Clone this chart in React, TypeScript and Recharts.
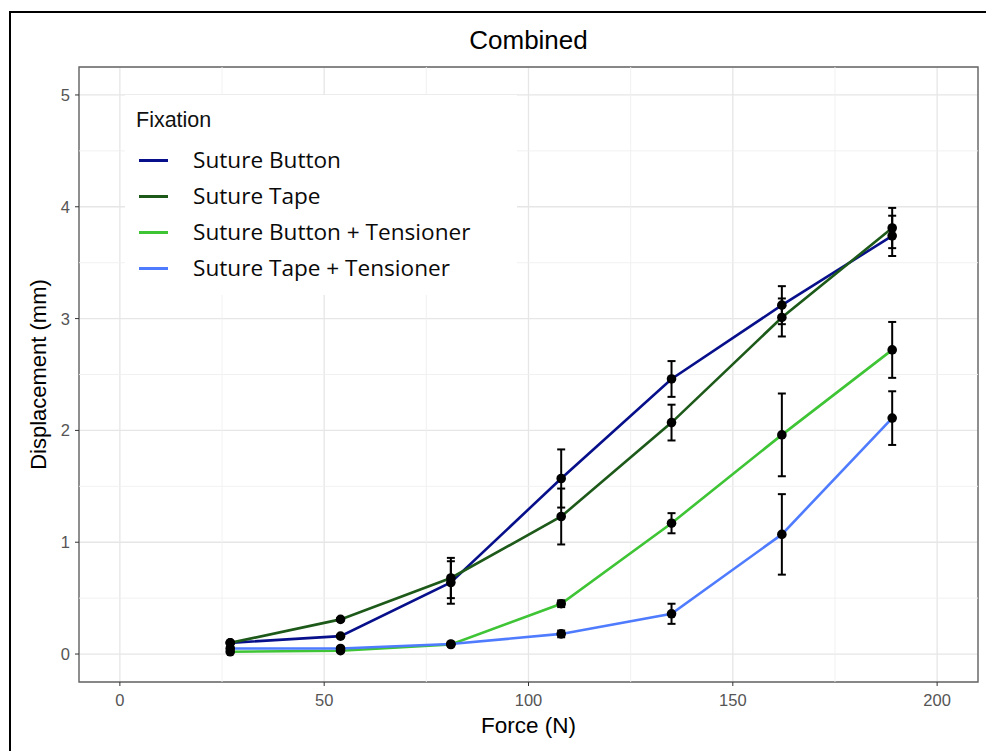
import React from 'react';
import {
  LineChart,
  Line,
  XAxis,
  YAxis,
  CartesianGrid,
  ErrorBar,
  ReferenceLine,
  ReferenceArea,
  Legend,
} from 'recharts';

// ---------- data ----------
const force = [27, 54, 81, 108, 135, 162, 189];

const sutureButton = [0.1, 0.16, 0.64, 1.57, 2.46, 3.12, 3.74];
const sutureButtonErr = [0.01, 0.01, 0.19, 0.26, 0.16, 0.17, 0.18];

const sutureTape = [0.1, 0.31, 0.68, 1.23, 2.07, 3.01, 3.81];
const sutureTapeErr = [0.01, 0.01, 0.18, 0.25, 0.16, 0.17, 0.18];

const buttonTensioner = [0.02, 0.03, 0.085, 0.45, 1.17, 1.96, 2.72];
const buttonTensionerErr = [0.01, 0.01, 0.01, 0.03, 0.09, 0.37, 0.25];

const tapeTensioner = [0.05, 0.05, 0.09, 0.18, 0.36, 1.07, 2.11];
const tapeTensionerErr = [0.01, 0.01, 0.01, 0.03, 0.09, 0.36, 0.24];

const seriesNames = [
  'Suture Button',
  'Suture Tape',
  'Suture Button + Tensioner',
  'Suture Tape + Tensioner',
];
const seriesColors = ['#07108a', '#1d5a19', '#3fc436', '#4f7bff'];

const xTicks = [0, 50, 100, 150, 200];
const xMinor = [25, 75, 125, 175];
const yTicks = [0, 1, 2, 3, 4, 5];
const yMinor = [0.5, 1.5, 2.5, 3.5, 4.5];
const xDomain = [-10, 210];
const yDomain = [-0.25, 5.25];

const values = [sutureButton, sutureTape, buttonTensioner, tapeTensioner];
const errors = [sutureButtonErr, sutureTapeErr, buttonTensionerErr, tapeTensionerErr];

const data = force.map((f, i) => {
  const row: Record<string, number> = { force: f };
  values.forEach((v, k) => {
    row['v' + k] = v[i];
    row['e' + k] = errors[k][i];
  });
  return row;
});

const AXIS_FONT = '"Liberation Sans", Arial, sans-serif';

function XTick(props: any) {
  const { x, y, payload } = props;
  return (
    <text
      x={x}
      y={y}
      dy="0.72em"
      textAnchor="middle"
      fill="#555"
      fontSize={16.5}
      fontFamily={AXIS_FONT}
    >
      {payload.value}
    </text>
  );
}

function YTick(props: any) {
  const { x, y, payload } = props;
  return (
    <text
      x={x}
      y={y}
      dy="0.36em"
      textAnchor="end"
      fill="#555"
      fontSize={16.5}
      fontFamily={AXIS_FONT}
    >
      {payload.value}
    </text>
  );
}

function LegendBox() {
  return (
    <div
      style={{
        position: 'relative',
        width: 392,
        height: 200,
        background: '#ffffff',
      }}
    >
      <div
        style={{
          position: 'absolute',
          left: 11,
          top: 12,
          fontFamily: AXIS_FONT,
          fontSize: 21.5,
          color: '#111',
          lineHeight: '26px',
        }}
      >
        Fixation
      </div>
      {seriesNames.map((name, k) => (
        <div
          key={name}
          style={{
            position: 'absolute',
            left: 0,
            top: 65 + k * 36 - 15,
            height: 30,
            width: 392,
          }}
        >
          <div
            style={{
              position: 'absolute',
              left: 14,
              top: 13.5,
              width: 29,
              height: 3,
              background: seriesColors[k],
            }}
          />
          <div
            style={{
              position: 'absolute',
              left: 68,
              top: 0,
              lineHeight: '30px',
              fontFamily: '"Open Sans", "Noto Sans", sans-serif',
              fontSize: 22.6,
              color: '#0a0a0a',
              whiteSpace: 'nowrap',
            }}
          >
            {name}
          </div>
        </div>
      ))}
    </div>
  );
}

export default function App() {
  return (
    <div
      style={{
        position: 'absolute',
        left: 0,
        top: 0,
        width: 986,
        height: 751,
        background: '#ffffff',
        overflow: 'hidden',
      }}
    >
      <div
        style={{
          position: 'absolute',
          left: 9,
          top: 11,
          width: 990,
          height: 760,
          borderLeft: '2px solid #000',
          borderTop: '2px solid #000',
        }}
      />
      <div
        style={{
          position: 'absolute',
          left: 79,
          width: 899,
          top: 24,
          textAlign: 'center',
          fontFamily: AXIS_FONT,
          fontSize: 26,
          lineHeight: '32px',
          color: '#000',
        }}
      >
        Combined
      </div>
      <div style={{ position: 'absolute', left: 0, top: 0 }}>
        <LineChart
          width={986}
          height={751}
          data={data}
          margin={{ top: 67, right: 8, bottom: 0, left: 0 }}
        >
          <CartesianGrid stroke="#e6e6e6" strokeWidth={1.3} />
          {xMinor.map((x) => (
            <ReferenceLine key={'xm' + x} x={x} stroke="#efefef" strokeWidth={0.9} />
          ))}
          {yMinor.map((y) => (
            <ReferenceLine key={'ym' + y} y={y} stroke="#efefef" strokeWidth={0.9} />
          ))}
          <XAxis
            type="number"
            dataKey="force"
            domain={xDomain}
            ticks={xTicks}
            allowDataOverflow
            height={69}
            axisLine={false}
            tickLine={{ stroke: '#333', strokeWidth: 1 }}
            tickSize={4}
            tickMargin={8}
            tick={<XTick />}
            label={{
              value: 'Force (N)',
              position: 'insideBottom',
              offset: 18,
              style: { fill: '#000', fontSize: 22.5, fontFamily: AXIS_FONT },
            }}
          />
          <YAxis
            type="number"
            domain={yDomain}
            ticks={yTicks}
            allowDataOverflow
            width={79}
            axisLine={false}
            tickLine={{ stroke: '#333', strokeWidth: 1 }}
            tickSize={4}
            tickMargin={5}
            tick={<YTick />}
            label={{
              value: 'Displacement (mm)',
              angle: -90,
              position: 'center',
              dx: -1,
              style: { fill: '#000', fontSize: 22, fontFamily: AXIS_FONT, textAnchor: 'middle' },
            }}
          />
          <ReferenceArea
            x1={xDomain[0]}
            x2={xDomain[1]}
            y1={yDomain[0]}
            y2={yDomain[1]}
            fill="none"
            fillOpacity={0}
            stroke="#666"
            strokeWidth={1.4}
            ifOverflow="visible"
          />
          {seriesNames.map((name, k) => (
            <Line
              key={'line' + k}
              type="linear"
              dataKey={'v' + k}
              name={name}
              stroke={seriesColors[k]}
              strokeWidth={2.6}
              dot={false}
              activeDot={false}
              isAnimationActive={false}
            />
          ))}
          {seriesNames.map((name, k) => (
            <Line
              key={'pts' + k}
              type="linear"
              dataKey={'v' + k}
              name={name + ' points'}
              stroke="none"
              legendType="none"
              dot={{ r: 4.8, fill: '#000', stroke: '#000', strokeWidth: 0 }}
              activeDot={false}
              isAnimationActive={false}
            >
              <ErrorBar
                dataKey={'e' + k}
                direction="y"
                width={4}
                stroke="#000"
                strokeWidth={2}
                isAnimationActive={false}
              />
            </Line>
          ))}
          <Legend
            layout="horizontal"
            verticalAlign="middle"
            align="center"
            wrapperStyle={{ left: 125, top: 95, width: 392, height: 200 }}
            content={() => <LegendBox />}
          />
        </LineChart>
      </div>
    </div>
  );
}
